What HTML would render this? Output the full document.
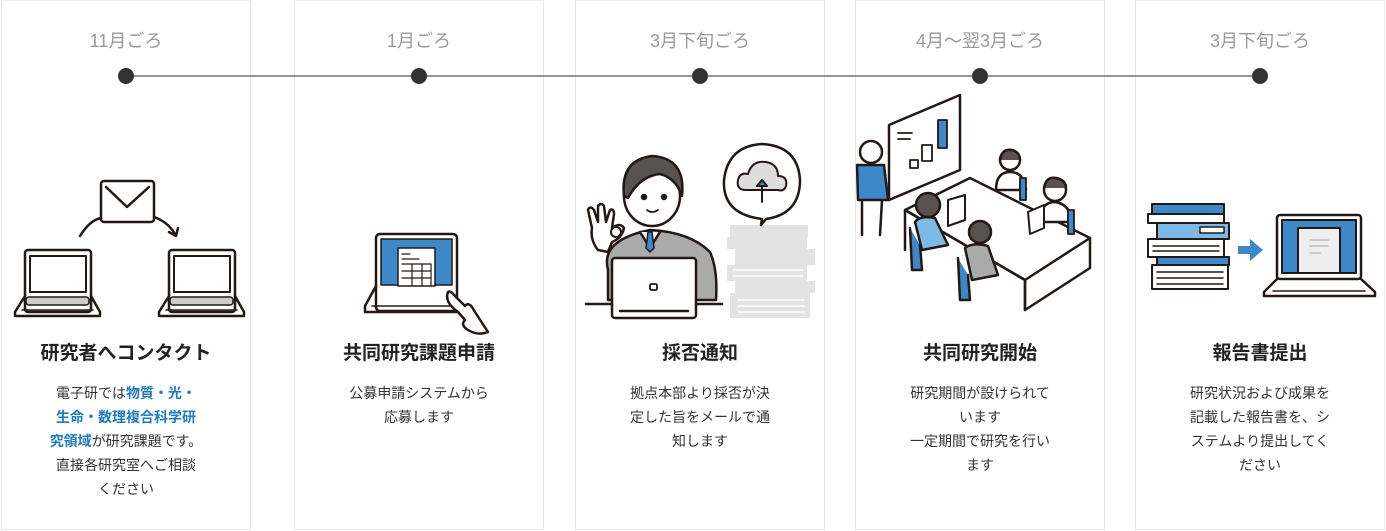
<!DOCTYPE html>
<html><head><meta charset="utf-8"><style>
body{margin:0;width:1386px;height:531px;background:#fff;overflow:hidden;font-family:"Liberation Sans","Noto Sans CJK JP",sans-serif;position:relative}
.col{position:absolute;top:0;height:530px;width:250px;border:1px solid #e8e8e8;border-top:1px solid #eee;box-sizing:border-box}
.date{position:absolute;top:27px;width:250px;text-align:center;color:#999;font-size:18px}
.ttl{position:absolute;top:338px;width:250px;text-align:center;color:#222;font-size:19px;font-weight:bold}
.desc{position:absolute;top:381px;width:250px;text-align:center;color:#333;font-size:14px;line-height:24px}
.b{color:#1f7bbf;font-weight:bold}
svg{position:absolute;left:0;top:0}
</style></head><body>
<div class="col" style="left:1px"></div>
<div class="col" style="left:294px"></div>
<div class="col" style="left:575px"></div>
<div class="col" style="left:855px"></div>
<div class="col" style="left:1135px"></div>

<div class="date" style="left:1px">11月ごろ</div>
<div class="date" style="left:294px">1月ごろ</div>
<div class="date" style="left:575px">3月下旬ごろ</div>
<div class="date" style="left:855px">4月〜翌3月ごろ</div>
<div class="date" style="left:1135px">3月下旬ごろ</div>

<svg width="1386" height="531" fill="none" stroke="#231815" stroke-width="2.5" stroke-linejoin="round" stroke-linecap="round">
<line x1="126" y1="76" x2="1260" y2="76" stroke="#555" stroke-width="1.3"/>
<g fill="#333" stroke="none"><circle cx="126" cy="76" r="8"/><circle cx="419" cy="76" r="8"/><circle cx="700" cy="76" r="8"/><circle cx="980" cy="76" r="8"/><circle cx="1260" cy="76" r="8"/></g>

<!-- col1 -->
<rect x="101" y="181" width="53" height="41" rx="3"/>
<path d="M106 187 L127 207 L149 187"/>
<path d="M80 236 Q90 220 101 218"/><path d="M154 217 Q168 222 175 234"/><path d="M169 232 L176 236 L178 228"/>
<g id="lap"><rect x="25" y="250" width="66" height="62" rx="3"/><rect x="30" y="256" width="56" height="36" stroke-width="2"/><path d="M25 296 L15 312 L15 316 L100 316 L100 312 L91 296"/><rect x="26" y="297" width="63" height="8" rx="3" fill="#ccc" stroke-width="1.5"/><line x1="22" y1="310" x2="93" y2="310" stroke-width="1.5"/></g>
<use href="#lap" x="144"/>

<!-- col2 -->
<rect x="376" y="234" width="81" height="77" rx="4"/>
<rect x="381" y="239" width="71" height="46" fill="#3d88c9" stroke-width="1.5"/>
<rect x="398" y="248" width="37" height="38" fill="#fff" stroke-width="1.5"/>
<path d="M402 254h8M402 259h17" stroke-width="1.2"/>
<path d="M402 264h29v21M402 271h29M402 278h29M412 264v21M422 264v21" stroke-width="1.2"/>
<path d="M376 286 L365 306 L365 312 L460 312"/><line x1="372" y1="306" x2="452" y2="306" stroke-width="1.5"/>
<path d="M448 292 Q444 302 458 312 L465 320 Q460 325 468 330 Q478 336 488 332 L475 312 L472 307 Q468 302 465 306 L455 296 Q450 290 448 292Z" fill="#fff"/>

<!-- col3 person -->
<path d="M608 270 Q600 240 650 230 Q690 232 710 252 Q718 270 716 300 L608 300Z" fill="#aaa"/>
<path d="M640 232 L650 248 L660 232" fill="#fff"/>
<path d="M648 232 L652 232 L654 248 L650 252 L646 248Z" fill="#3d88c9" stroke-width="1.5"/>
<ellipse cx="652" cy="196" rx="28" ry="30" fill="#fff"/>
<path d="M624 196 Q620 160 652 156 Q686 158 682 196 Q676 178 660 174 Q640 176 628 198Z" fill="#5a5250"/>
<circle cx="644" cy="197" r="2" fill="#231815"/><circle cx="664" cy="197" r="2" fill="#231815"/>
<path d="M647 210 Q652 214 658 210" stroke-width="1.8"/>
<path d="M598 250 Q590 240 592 228 L588 210 Q590 205 594 210 L598 222 L598 206 Q601 202 604 206 L606 222 L610 210 Q614 208 614 214 L612 228 Q620 222 624 228 Q622 238 612 242 L608 252Z" fill="#fff"/>
<circle cx="616" cy="232" r="5" stroke-width="2"/>
<rect x="612" y="258" width="84" height="60" rx="3" fill="#fff"/>
<rect x="650" y="284" width="7" height="6" rx="1.5" stroke-width="1.8"/>
<path d="M586 304 L612 304 M696 304 L722 304"/>
<line x1="620" y1="311" x2="688" y2="311"/>
<!-- cloud bubble + books -->
<g fill="#e3e3e3" stroke="none"><rect x="730" y="225" width="78" height="12"/><rect x="727" y="237" width="80" height="12"/><rect x="735" y="249" width="80" height="16"/><rect x="727" y="265" width="80" height="16"/><rect x="735" y="281" width="80" height="12"/><rect x="730" y="293" width="80" height="25"/></g>
<g stroke="#fff" stroke-width="1.5"><path d="M733 270h70M733 276h70M738 300h66M738 306h66M738 312h66"/></g>
<path d="M762 219 Q722 214 724 180 Q728 146 762 144 Q798 146 800 180 Q800 214 766 219 L761 225Z" fill="#fff"/>
<path d="M746 190 Q736 190 738 180 Q740 172 748 174 Q752 160 766 162 Q778 164 778 176 Q788 176 786 186 Q784 192 778 190Z" fill="#ddd" stroke-width="2"/>
<path d="M762 202 L762 186 L757 186 L762 180 L767 186 L762 186" fill="#3d88c9" stroke-width="2"/>

<!-- col4 -->
<path d="M889 125 L960 95 L960 170 L889 200Z" fill="#fff"/>
<path d="M898 133h14M898 139h12" stroke-width="1.8"/>
<rect x="910" y="160" width="8" height="8" stroke-width="1.8"/><rect x="922" y="145" width="10" height="16" stroke-width="1.8"/><rect x="938" y="120" width="9" height="28" fill="#3d88c9" stroke-width="1.8"/>
<path d="M905 210 L970 178 L1090 238 L1090 268 L1025 310 L1025 280Z" fill="#fff"/>
<path d="M905 210 L1025 280 L1090 238 M1025 280 L1025 310 M905 210 L905 250"/>
<circle cx="871" cy="152" r="11" fill="#fff"/>
<path d="M857 165 L884 165 L888 200 L858 200Z" fill="#3d88c9"/>
<path d="M862 200 L862 235 M882 200 L880 235" />
<circle cx="1010" cy="160" r="10" fill="#fff"/><path d="M1000 160 Q1002 148 1012 150 Q1020 152 1020 160" fill="#5a5250"/>
<path d="M996 190 Q996 172 1010 172 Q1024 172 1026 190Z" fill="#fff"/>
<rect x="1020" y="178" width="6" height="22" fill="#3d88c9" stroke-width="1.8"/>
<circle cx="1055" cy="190" r="11" fill="#fff"/><path d="M1044 188 Q1046 176 1056 178 Q1066 180 1066 188" fill="#5a5250"/>
<path d="M1040 222 Q1040 202 1055 202 Q1070 204 1072 222Z" fill="#fff"/>
<rect x="1068" y="210" width="6" height="24" fill="#3d88c9" stroke-width="1.8"/>
<circle cx="928" cy="205" r="12" fill="#5a5250"/>
<path d="M915 222 Q920 215 935 218 L948 245 L922 250Z" fill="#7db9e6"/>
<path d="M910 228 L912 270 L922 270 L920 245" fill="#3d88c9"/>
<circle cx="980" cy="232" r="11" fill="#5a5250"/>
<path d="M965 248 Q972 242 988 246 L998 275 L972 280Z" fill="#aaa"/>
<path d="M958 258 L960 300 L970 300 L968 275" fill="#3d88c9"/>
<path d="M948 200 L965 195 L965 220 L948 226Z" fill="#fff" stroke-width="2"/>
<path d="M1028 212 L1044 205 L1044 228 L1030 234Z" fill="#fff" stroke-width="2"/>

<!-- col5 -->
<rect x="1152" y="204" width="72" height="10" fill="#3d88c9" stroke-width="2"/>
<rect x="1148" y="214" width="76" height="9" fill="#fff" stroke-width="2"/>
<rect x="1157" y="223" width="72" height="16" fill="#7db9e6" stroke-width="2"/>
<rect x="1200" y="227" width="24" height="6" fill="#fff" stroke-width="1.5"/>
<rect x="1148" y="239" width="76" height="18" fill="#fff" stroke-width="2"/>
<path d="M1153 246h66M1153 251h66" stroke-width="1.5"/>
<rect x="1157" y="257" width="72" height="8" fill="#3d88c9" stroke-width="2"/>
<rect x="1152" y="265" width="76" height="24" fill="#fff" stroke-width="2"/>
<path d="M1157 272h66M1157 278h66M1157 284h66" stroke-width="1.5"/>
<path d="M1238 246 h12 v-7 l13 11 l-13 11 v-7 h-12z" fill="#3d88c9" stroke="none"/>
<rect x="1277" y="215" width="84" height="64" rx="3"/>
<rect x="1282" y="220" width="74" height="53" fill="#3d88c9" stroke-width="2"/>
<rect x="1298" y="228" width="42" height="45" fill="#eee" stroke-width="2"/>
<path d="M1310 240h18M1310 246h18M1310 253h10" stroke="#bbb" stroke-width="1.5"/>
<path d="M1277 279 L1264 292 L1264 296 L1375 296 L1375 292 L1361 279"/>
<line x1="1273" y1="291" x2="1365" y2="291" stroke-width="1.5"/>
</svg>

<div class="ttl" style="left:1px">研究者へコンタクト</div>
<div class="ttl" style="left:294px">共同研究課題申請</div>
<div class="ttl" style="left:575px">採否通知</div>
<div class="ttl" style="left:855px">共同研究開始</div>
<div class="ttl" style="left:1135px">報告書提出</div>

<div class="desc" style="left:1px">電子研では<span class="b">物質・光・</span><br><span class="b">生命・数理複合科学研</span><br><span class="b">究領域</span>が研究課題です。<br>直接各研究室へご相談<br>ください</div>
<div class="desc" style="left:294px">公募申請システムから<br>応募します</div>
<div class="desc" style="left:575px">拠点本部より採否が決<br>定した旨をメールで通<br>知します</div>
<div class="desc" style="left:855px">研究期間が設けられて<br>います<br>一定期間で研究を行い<br>ます</div>
<div class="desc" style="left:1135px">研究状況および成果を<br>記載した報告書を、シ<br>ステムより提出してく<br>ださい</div>
</body></html>
